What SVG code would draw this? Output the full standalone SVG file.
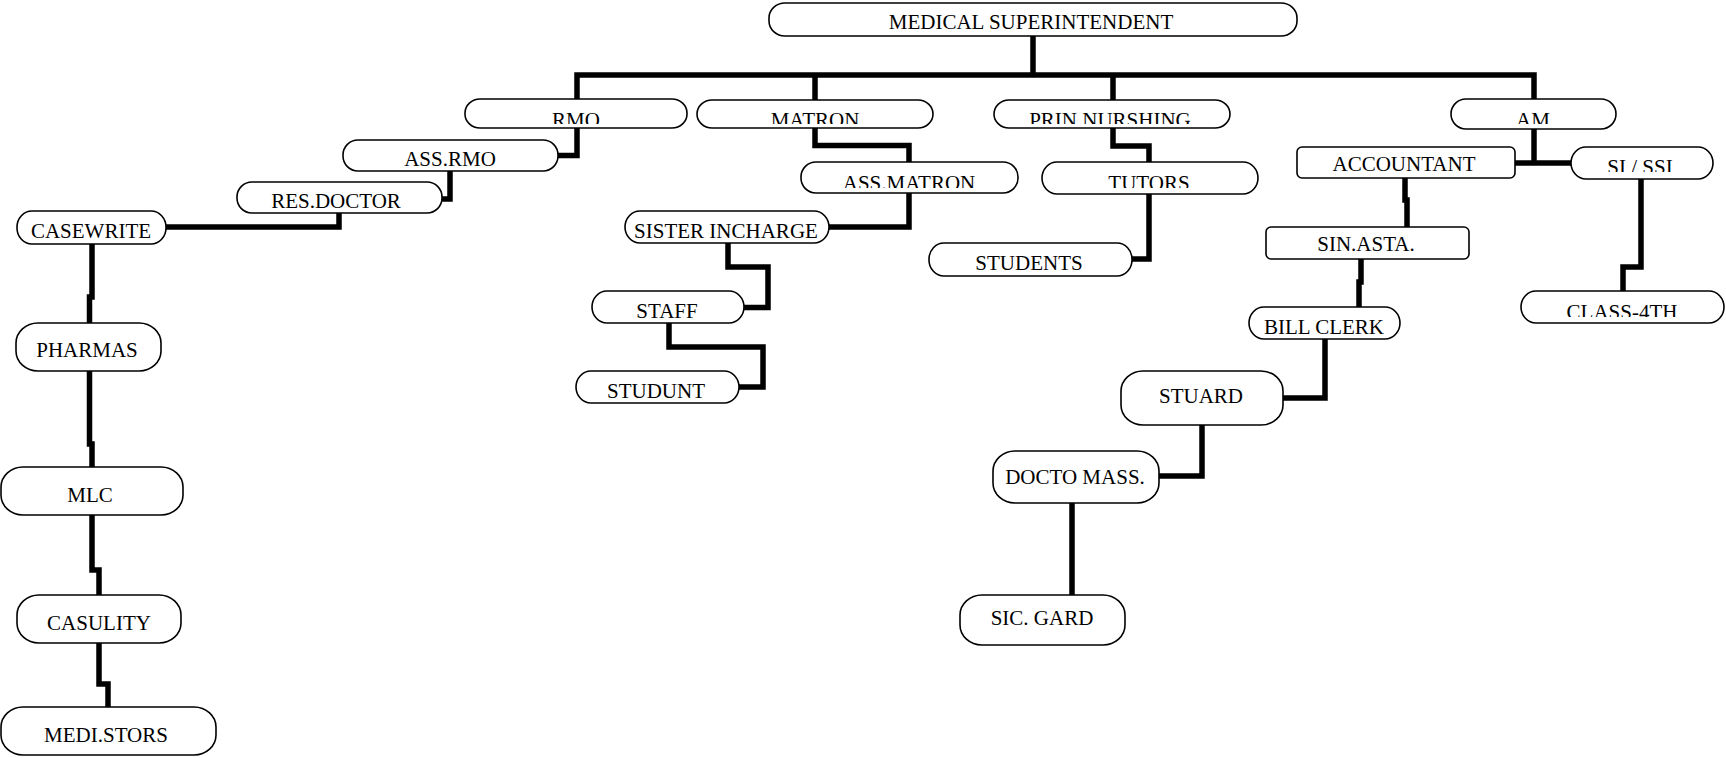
<svg xmlns="http://www.w3.org/2000/svg" width="1726" height="758" viewBox="0 0 1726 758">
<style>
.box{fill:#fff;stroke:#000;stroke-width:1.6}
.t{font-family:"Liberation Serif","Times New Roman",serif;font-size:21px;text-anchor:middle;fill:#000}
.c{fill:none;stroke:#000;stroke-width:5.5;stroke-linejoin:miter;stroke-linecap:butt}
</style>
<defs>
<clipPath id="clRmo" clipPathUnits="userSpaceOnUse"><rect x="465" y="99" width="222" height="25"/></clipPath>
<clipPath id="clMatron" clipPathUnits="userSpaceOnUse"><rect x="697" y="100" width="236" height="24"/></clipPath>
<clipPath id="clPrin" clipPathUnits="userSpaceOnUse"><rect x="994" y="100" width="236" height="24"/></clipPath>
<clipPath id="clAm" clipPathUnits="userSpaceOnUse"><rect x="1451" y="99" width="165" height="25"/></clipPath>
<clipPath id="clAssM" clipPathUnits="userSpaceOnUse"><rect x="801" y="162" width="217" height="26"/></clipPath>
<clipPath id="clTutors" clipPathUnits="userSpaceOnUse"><rect x="1042" y="162" width="216" height="26"/></clipPath>
<clipPath id="clSi" clipPathUnits="userSpaceOnUse"><rect x="1571" y="147" width="142" height="25"/></clipPath>
<clipPath id="clClass" clipPathUnits="userSpaceOnUse"><rect x="1521" y="291" width="203" height="26"/></clipPath>
</defs>
<g id="connectors">
<path class="c" d="M1033,36 V75"/>
<path class="c" d="M577,99 V75 H1534 V99"/>
<path class="c" d="M815,75 V100"/>
<path class="c" d="M1113,75 V100"/>
<path class="c" d="M577,128 V155.5 H558"/>
<path class="c" d="M450,171 V199 H442"/>
<path class="c" d="M339,213 V227 H166"/>
<path class="c" d="M92,244 V297 H89.5 V323"/>
<path class="c" d="M89.5,371 V444 H92 V467"/>
<path class="c" d="M92,515 V570 H99 V595"/>
<path class="c" d="M99,643 V684 H108 V707"/>
<path class="c" d="M815,128 V145.5 H909 V162"/>
<path class="c" d="M909,193 V227 H829"/>
<path class="c" d="M728,243 V267 H768 V307.5 H744"/>
<path class="c" d="M669,323 V347 H763 V387 H739"/>
<path class="c" d="M1113,128 V146 H1149 V162"/>
<path class="c" d="M1149,194 V259 H1132"/>
<path class="c" d="M1534,129 V163"/>
<path class="c" d="M1515,163 H1571"/>
<path class="c" d="M1405,178 V200 H1407 V227"/>
<path class="c" d="M1361,259 V282 H1359 V307"/>
<path class="c" d="M1325,339 V398 H1283"/>
<path class="c" d="M1202,425 V476 H1159"/>
<path class="c" d="M1072,503 V595"/>
<path class="c" d="M1641,179 V267 H1623 V291"/>
</g>
<g id="n-ms"><rect class="box" x="769" y="3" width="528" height="33" rx="16" ry="15"/><text class="t" x="1031" y="29">MEDICAL SUPERINTENDENT</text></g>
<g id="n-rmo"><rect class="box" x="465" y="99" width="222" height="29" rx="15" ry="14"/><text class="t" x="576" y="127" clip-path="url(#clRmo)">RMO</text></g>
<g id="n-matron"><rect class="box" x="697" y="100" width="236" height="28" rx="15" ry="14"/><text class="t" x="815" y="127" clip-path="url(#clMatron)">MATRON</text></g>
<g id="n-prin"><rect class="box" x="994" y="100" width="236" height="28" rx="15" ry="14"/><text class="t" x="1110" y="127" clip-path="url(#clPrin)">PRIN NURSHING</text></g>
<g id="n-am"><rect class="box" x="1451" y="99" width="165" height="30" rx="15" ry="15"/><text class="t" x="1533" y="127" clip-path="url(#clAm)">AM</text></g>
<g id="n-assrmo"><rect class="box" x="343" y="140" width="215" height="31" rx="15" ry="15"/><text class="t" x="450" y="166">ASS.RMO</text></g>
<g id="n-resdoc"><rect class="box" x="237" y="182" width="205" height="31" rx="15" ry="15"/><text class="t" x="336" y="208">RES.DOCTOR</text></g>
<g id="n-casewrite"><rect class="box" x="17" y="211" width="149" height="33" rx="15" ry="16"/><text class="t" x="91" y="238">CASEWRITE</text></g>
<g id="n-assmatron"><rect class="box" x="801" y="162" width="217" height="31" rx="15" ry="15"/><text class="t" x="909" y="190" clip-path="url(#clAssM)">ASS.MATRON</text></g>
<g id="n-tutors"><rect class="box" x="1042" y="162" width="216" height="32" rx="15" ry="16"/><text class="t" x="1149" y="190" clip-path="url(#clTutors)">TUTORS</text></g>
<g id="n-sister"><rect class="box" x="625" y="211" width="204" height="32" rx="15" ry="16"/><text class="t" x="726" y="238">SISTER INCHARGE</text></g>
<g id="n-students"><rect class="box" x="929" y="243" width="203" height="33" rx="15" ry="16"/><text class="t" x="1029" y="270">STUDENTS</text></g>
<g id="n-accountant"><rect class="box" x="1297" y="147" width="218" height="31" rx="5" ry="5"/><text class="t" x="1404" y="171">ACCOUNTANT</text></g>
<g id="n-si"><rect class="box" x="1571" y="147" width="142" height="32" rx="15" ry="16"/><text class="t" x="1640" y="174" clip-path="url(#clSi)">SI / SSI</text></g>
<g id="n-sinasta"><rect class="box" x="1266" y="227" width="203" height="32" rx="5" ry="5"/><text class="t" x="1366" y="251">SIN.ASTA.</text></g>
<g id="n-billclerk"><rect class="box" x="1249" y="307" width="151" height="32" rx="15" ry="16"/><text class="t" x="1324" y="334">BILL CLERK</text></g>
<g id="n-class4"><rect class="box" x="1521" y="291" width="203" height="32" rx="15" ry="16"/><text class="t" x="1622" y="319" clip-path="url(#clClass)">CLASS-4TH</text></g>
<g id="n-staff"><rect class="box" x="592" y="291" width="152" height="32" rx="15" ry="16"/><text class="t" x="667" y="318">STAFF</text></g>
<g id="n-studunt"><rect class="box" x="576" y="371" width="163" height="32" rx="15" ry="16"/><text class="t" x="656" y="398">STUDUNT</text></g>
<g id="n-stuard"><rect class="box" x="1121" y="371" width="162" height="54" rx="22" ry="20"/><text class="t" x="1201" y="403">STUARD</text></g>
<g id="n-docto"><rect class="box" x="993" y="451" width="166" height="52" rx="22" ry="20"/><text class="t" x="1075" y="484">DOCTO MASS.</text></g>
<g id="n-sicgard"><rect class="box" x="960" y="595" width="165" height="50" rx="22" ry="20"/><text class="t" x="1042" y="625">SIC. GARD</text></g>
<g id="n-pharmas"><rect class="box" x="16" y="323" width="145" height="48" rx="22" ry="20"/><text class="t" x="87" y="357">PHARMAS</text></g>
<g id="n-mlc"><rect class="box" x="1" y="467" width="182" height="48" rx="22" ry="20"/><text class="t" x="90" y="502">MLC</text></g>
<g id="n-casulity"><rect class="box" x="17" y="595" width="164" height="48" rx="22" ry="20"/><text class="t" x="99" y="630">CASULITY</text></g>
<g id="n-medistors"><rect class="box" x="1" y="707" width="215" height="48" rx="22" ry="20"/><text class="t" x="106" y="742">MEDI.STORS</text></g>
</svg>
